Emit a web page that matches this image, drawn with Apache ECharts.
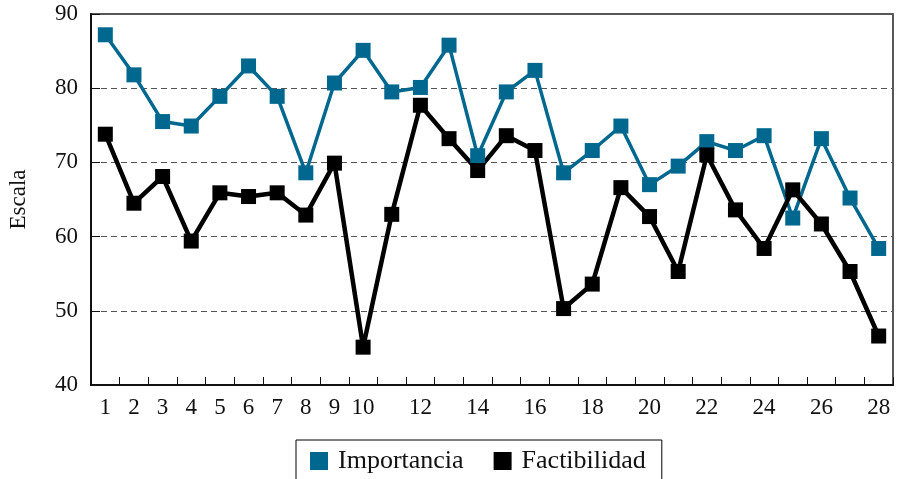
<!DOCTYPE html>
<html>
<head>
<meta charset="utf-8">
<script src="https://cdn.jsdelivr.net/npm/echarts@6/dist/echarts.min.js"></script>
<style>
  html, body { margin: 0; padding: 0; background: #fff; }
  #chart { width: 899px; height: 479px; }
</style>
</head>
<body>
<div id="chart"></div>
<script>
// categorías del eje x
const categories = Array.from({ length: 28 }, (_, i) => String(i + 1))

// valores
const importancia = [87.2, 81.8, 75.5, 74.9, 78.9, 83.0, 78.9, 68.6, 80.7, 85.1,
  79.5, 80.1, 85.8, 70.9, 79.5, 82.4, 68.6, 71.6, 74.9, 67.0,
  69.5, 72.8, 71.6, 73.6, 62.5, 73.2, 65.2, 58.4]
const factibilidad = [73.8, 64.5, 68.1, 59.4, 65.9, 65.4, 65.9, 62.9, 69.9, 45.1,
  63.0, 77.7, 73.2, 68.9, 73.6, 71.6, 50.3, 53.6, 66.6, 62.7,
  55.3, 71.0, 63.6, 58.4, 66.3, 61.7, 55.3, 46.6]

const yTicks = [40, 50, 60, 70, 80, 90]

const serif = '"Liberation Serif", "DejaVu Serif", serif'
const teal = '#00688f'

const chart = echarts.init(document.getElementById('chart'))

chart.setOption({
  animation: false,
  textStyle: { fontFamily: serif },
  grid: {
    left: 91, top: 14, right: 6, bottom: 94,
    outerBoundsMode: 'none',
    containLabel: false,
    show: true,
    borderColor: '#222',
    borderWidth: 1.5
  },
  legend: {
    top: 440,
    left: 296,
    itemWidth: 18,
    itemHeight: 18,
    itemGap: 30,
    icon: 'rect',
    borderColor: '#000',
    borderWidth: 1,
    padding: [8, 16, 14, 14],
    textStyle: { fontFamily: serif, fontSize: 26, color: '#111', padding: [0, 0, 0, 5] },
    data: ['Importancia', 'Factibilidad']
  },
  xAxis: {
    type: 'category',
    data: categories,
    boundaryGap: true,
    axisLine: { lineStyle: { color: '#111', width: 2 } },
    axisTick: { show: true, inside: true, length: 8, interval: 0, lineStyle: { color: '#111', width: 1 } },
    axisLabel: {
      fontFamily: serif, fontSize: 23, color: '#111', margin: 11,
      interval: (i) => i < 10 || i % 2 === 1
    },
    splitLine: { show: false }
  },
  yAxis: {
    type: 'value',
    min: yTicks[0],
    max: yTicks[yTicks.length - 1],
    interval: 10,
    name: 'Escala',
    nameLocation: 'middle',
    nameGap: 61,
    nameTextStyle: { fontFamily: serif, fontSize: 23, color: '#111' },
    axisLine: { show: true, lineStyle: { color: '#111', width: 2 } },
    axisTick: { show: true, inside: true, length: 9, lineStyle: { color: '#111' } },
    axisLabel: { fontFamily: serif, fontSize: 23, color: '#111', margin: 13 },
    splitLine: { show: true, lineStyle: { color: '#555', type: [6, 4], width: 1 } }
  },
  series: [
    {
      name: 'Importancia',
      type: 'line',
      data: importancia,
      symbol: 'rect',
      symbolSize: 15,
      lineStyle: { color: teal, width: 3.5 },
      itemStyle: { color: teal }
    },
    {
      name: 'Factibilidad',
      type: 'line',
      data: factibilidad,
      symbol: 'rect',
      symbolSize: 15,
      lineStyle: { color: '#000', width: 4.5 },
      itemStyle: { color: '#000' }
    }
  ]
})
</script>
</body>
</html>
